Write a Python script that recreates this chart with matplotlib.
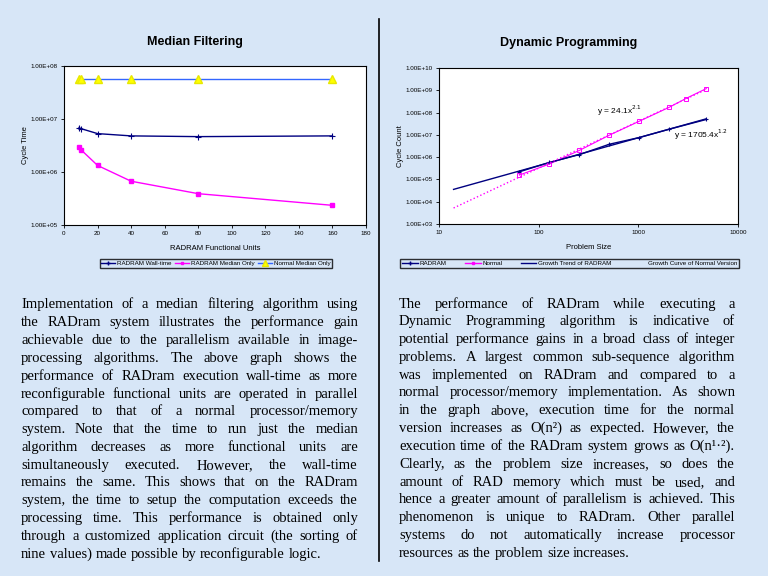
import matplotlib
matplotlib.use('Agg')
import matplotlib.pyplot as plt
from matplotlib.lines import Line2D
from matplotlib.ticker import NullLocator
import numpy as np

# --- Median filtering data (left chart) ---
UNITS = [9, 10, 20, 40, 80, 160]
WALL_TIME = [6.9e6, 6.6e6, 5.3e6, 4.8e6, 4.65e6, 4.8e6]
MEDIAN_ONLY = [2.95e6, 2.65e6, 1.33e6, 6.7e5, 3.9e5, 2.35e5]
NORMAL_MEDIAN = [5.7e7, 5.7e7, 5.7e7, 5.7e7, 5.7e7, 5.7e7]

# --- Dynamic programming data (right chart) ---
SIZE_RAD = [64, 128, 256, 512, 1024, 2048, 4800]
COUNT_RAD = [2.2e5, 5.8e5, 1.3e6, 3.8e6, 7.6e6, 1.8e7, 4.9e7]
SIZE_NORMAL = [64, 128, 256, 512, 1024, 2048, 3000, 4800]
COUNT_NORMAL = [1.57e5, 4.9e5, 2.0e6, 9.7e6, 4.1e7, 1.74e8, 4.27e8, 1.19e9]
TREND_RANGE = [14, 4800]

LEFT_TEXT = [
    "Implementation of a median filtering algorithm using",
    "the RADram system illustrates the performance gain",
    "achievable due to the parallelism available in image-",
    "processing algorithms.  The above graph shows the",
    "performance of RADram execution wall-time as more",
    "reconfigurable functional units are operated in parallel",
    "compared to that of a normal processor/memory",
    "system.  Note that the time to run just the median",
    "algorithm decreases as more functional units are",
    "simultaneously executed.  However, the wall-time",
    "remains the same.  This shows that on the RADram",
    "system, the time to setup the computation exceeds the",
    "processing time. This performance is obtained only",
    "through a customized application circuit (the sorting of",
    "nine values) made possible by reconfigurable logic.",
]
RIGHT_TEXT = [
    "The performance of RADram while executing a",
    "Dynamic Programming algorithm is indicative of",
    "potential performance gains in a broad class of integer",
    "problems.  A largest common sub-sequence algorithm",
    "was implemented on RADram and compared to a",
    "normal processor/memory implementation. As shown",
    "in the graph above, execution time for the normal",
    "version increases as O(n\u00b2) as expected.  However, the",
    "execution time of the RADram system grows as O(n\u00b9\u00b7\u00b2).",
    "Clearly, as the problem size increases, so does the",
    "amount of RAD memory which must be used, and",
    "hence a greater amount of parallelism is achieved.  This",
    "phenomenon is unique to RADram. Other parallel",
    "systems do not automatically increase processor",
    "resources as the problem size increases.",
]

W, H = 768, 576
BG = '#d7e6f7'
NAVY = '#000080'
MAGENTA = '#ff00ff'
SANS = 'Liberation Sans'
SERIF = 'Liberation Serif'

fig = plt.figure(figsize=(7.68, 5.76), dpi=100)
fig.patch.set_facecolor(BG)


def box(x0, y0, x1, y1):
    return [x0 / W, 1 - y1 / H, (x1 - x0) / W, (y1 - y0) / H]


def style_axes(ax):
    ax.set_facecolor('white')
    for s in ax.spines.values():
        s.set_linewidth(0.8)
        s.set_color('black')
    ax.tick_params(labelsize=4.5, length=2.5, width=0.6, pad=2)
    for lab in ax.get_xticklabels() + ax.get_yticklabels():
        lab.set_family(SANS)


# ---------------- left chart ----------------
ax1 = fig.add_axes(box(64, 66, 366, 225))
ax1.plot(UNITS, WALL_TIME, color=NAVY, marker='+', ms=4, mew=0.8, lw=1)
ax1.plot(UNITS, MEDIAN_ONLY, color=MAGENTA, marker='s', ms=2.5, lw=1)
ax1.plot(UNITS, NORMAL_MEDIAN, color='#3366ff', marker='^', ms=5.5,
         mfc='#ffff00', mec='#e8e800', lw=1)
ax1.set_yscale('log')
ax1.set_ylim(1e5, 1e8)
ax1.set_xlim(0, 180)
ax1.set_xticks(range(0, 181, 20))
ax1.set_yticks([1e5, 1e6, 1e7, 1e8])
ax1.set_yticklabels(['1.00E+05', '1.00E+06', '1.00E+07', '1.00E+08'])
ax1.yaxis.set_minor_locator(NullLocator())
style_axes(ax1)
ax1.set_xlabel('RADRAM Functional Units', fontsize=5.5, family=SANS, labelpad=6)
ax1.set_ylabel('Cycle Time', fontsize=5.5, family=SANS, labelpad=1)
fig.text(195 / W, 1 - 42 / H, 'Median Filtering', fontsize=9, weight='bold',
         family=SANS, ha='center', va='center')

h1 = [Line2D([], [], color=NAVY, marker='+', ms=3, lw=1),
      Line2D([], [], color=MAGENTA, marker='s', ms=2, lw=1),
      Line2D([], [], color='#3366ff', marker='^', ms=4, mfc='#ffff00', mec='#e8e800', lw=1)]
fig.legend(h1, ['RADRAM Wall-time', 'RADRAM Median Only', 'Normal Median Only'],
           loc='center', bbox_to_anchor=(216 / W, 1 - 263.5 / H),
           ncol=3, prop={'family': SANS, 'size': 4.5}, frameon=True, fancybox=False,
           edgecolor='black', facecolor='none', borderpad=0.3, handlelength=2.2,
           handletextpad=0.3, columnspacing=0.6, borderaxespad=0)

# ---------------- right chart ----------------
ax2 = fig.add_axes(box(439, 68, 738, 224))
ax2.plot(SIZE_RAD, COUNT_RAD, color=NAVY, marker='+', ms=3.5, mew=0.8, lw=1)
ax2.plot(SIZE_NORMAL, COUNT_NORMAL, color=MAGENTA, marker='s', ms=2.5,
         mfc='none', mew=0.7, lw=0.8)

# power trend lines fitted in log space, like Excel's trendline
tx = np.array(TREND_RANGE, dtype=float)
k_r, c_r = np.polyfit(np.log10(SIZE_RAD), np.log10(COUNT_RAD), 1)
k_n, c_n = np.polyfit(np.log10(SIZE_NORMAL), np.log10(COUNT_NORMAL), 1)
ax2.plot(tx, 10 ** (c_r + k_r * np.log10(tx)), color=NAVY, lw=1)
ax2.plot(tx, 10 ** (c_n + k_n * np.log10(tx)), color=MAGENTA, lw=1, ls=':')

ax2.set_xscale('log')
ax2.set_yscale('log')
ax2.set_xlim(10, 10000)
ax2.set_ylim(1e3, 1e10)
ax2.set_xticks([10, 100, 1000, 10000])
ax2.set_xticklabels(['10', '100', '1000', '10000'])
ax2.set_yticks([10.0 ** p for p in range(3, 11)])
ax2.set_yticklabels(['1.00E+%02d' % p for p in range(3, 11)])
ax2.xaxis.set_minor_locator(NullLocator())
ax2.yaxis.set_minor_locator(NullLocator())
style_axes(ax2)
ax2.set_xlabel('Problem Size', fontsize=5.5, family=SANS, labelpad=6)
ax2.set_ylabel('Cycle Count', fontsize=5.5, family=SANS, labelpad=1)
fig.text(569 / W, 1 - 43 / H, 'Dynamic Programming', fontsize=9, weight='bold',
         family=SANS, ha='center', va='center')
fig.text(597 / W, 1 - 111 / H, 'y = 24.1x$^{2.1}$', fontsize=6, family=SANS,
         ha='left', va='center')
fig.text(674 / W, 1 - 135 / H, 'y = 1705.4x$^{1.2}$', fontsize=6, family=SANS,
         ha='left', va='center')

h2 = [Line2D([], [], color=NAVY, marker='+', ms=3, lw=1),
      Line2D([], [], color=MAGENTA, marker='s', ms=2, lw=1),
      Line2D([], [], color=NAVY, lw=1),
      Line2D([], [], color='none', lw=1)]
fig.legend(h2, ['RADRAM', 'Normal', 'Growth Trend of RADRAM', 'Growth Curve of Normal Version'],
           loc='center', bbox_to_anchor=box(397, 259, 742, 268), mode='expand',
           ncol=4, prop={'family': SANS, 'size': 4.5}, frameon=True, fancybox=False,
           edgecolor='black', facecolor='none', borderpad=0.3, handlelength=2.5,
           handletextpad=0.3, columnspacing=0.8)

# divider
fig.add_artist(Line2D([378.5 / W, 378.5 / W], [1 - 19 / H, 1 - 561 / H],
                      color='black', lw=1.2, transform=fig.transFigure))

# ---------------- justified paragraphs ----------------
renderer = fig.canvas.get_renderer()


def measure(s, size):
    t = fig.text(0, 0, s, fontsize=size, family=SERIF)
    w = t.get_window_extent(renderer).width
    t.remove()
    return w


def fit_size(lines, width, size):
    while size > 6:
        sp = measure('a a', size) - measure('aa', size)
        ok = True
        for line in lines:
            words = line.split()
            total = sum(measure(w, size) for w in words) + 0.6 * sp * (len(words) - 1)
            if total > width:
                ok = False
                break
        if ok:
            return size
        size -= 0.25
    return size


def justify(lines, x0, x1, base0, step, size):
    sp = measure('a a', size) - measure('aa', size)
    for i, line in enumerate(lines):
        words = line.split()
        y = 1 - round(base0 + i * step) / H
        texts = [fig.text(0, y, w, fontsize=size, family=SERIF, va='baseline')
                 for w in words]
        widths = [t.get_window_extent(renderer).width for t in texts]
        if i == len(lines) - 1 or len(words) == 1:
            gap = sp
        else:
            gap = (x1 - x0 - sum(widths)) / (len(words) - 1)
        x = x0
        for t, w in zip(texts, widths):
            t.set_x(x / W)
            x += w + gap


size = min(fit_size(LEFT_TEXT, 337, 10.5), fit_size(RIGHT_TEXT, 336, 10.5))
justify(LEFT_TEXT, 21, 358, 308.5, 17.8, size)
justify(RIGHT_TEXT, 399, 735, 307.5, 17.8, size)

fig.savefig('out.png', dpi=100, facecolor=BG)
